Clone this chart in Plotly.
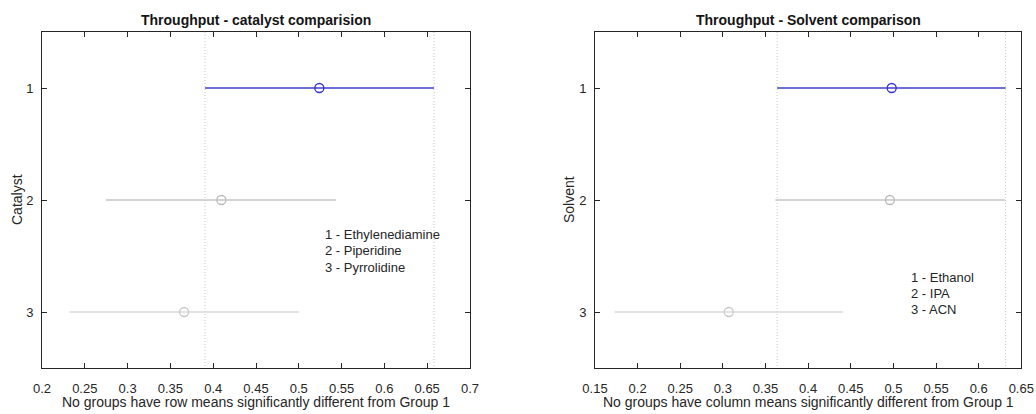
import plotly.graph_objects as go

# ---- data ----
groups = [1, 2, 3]
cat_mean = [0.524, 0.4095, 0.366]
cat_low = [0.3904, 0.2748, 0.2323]
cat_high = [0.658, 0.5435, 0.500]
cat_names = ["1 - Ethylenediamine", "2 - Piperidine", "3 - Pyrrolidine"]

sol_mean = [0.498, 0.4959, 0.3069]
sol_low = [0.3636, 0.3616, 0.1731]
sol_high = [0.6316, 0.6306, 0.4407]
sol_names = ["1 - Ethanol", "2 - IPA", "3 - ACN"]

cat_xticks = [0.2, 0.25, 0.3, 0.35, 0.4, 0.45, 0.5, 0.55, 0.6, 0.65, 0.7]
sol_xticks = [0.15, 0.2, 0.25, 0.3, 0.35, 0.4, 0.45, 0.5, 0.55, 0.6, 0.65]

line_cols = ["rgb(110,110,218)", "rgb(196,196,196)", "rgb(218,218,218)"]
mark_cols = ["rgb(50,50,200)", "rgb(185,185,185)", "rgb(200,200,200)"]
line_w = [2.2, 1.3, 1.6]

FONT = "Liberation Sans, Arial, sans-serif"
AX = "rgb(38,38,38)"

W, H = 1036, 414
D1 = [42 / W, 470 / W]
D2 = [595 / W, 1021.3 / W]
DY = [1 - 368 / H, 1 - 32 / H]

fig = go.Figure()

def add_panel(xa, ya, means, lows, highs):
    for v in (lows[0], highs[0]):
        fig.add_trace(go.Scatter(
            x=[v, v], y=[0.5, 3.5], mode="lines",
            line=dict(color="rgb(200,200,200)", width=1, dash="1px,2px"),
            xaxis=xa, yaxis=ya, showlegend=False, hoverinfo="skip"))
    for i, g in enumerate(groups):
        fig.add_trace(go.Scatter(
            x=[lows[i], highs[i]], y=[g, g], mode="lines",
            line=dict(color=line_cols[i], width=line_w[i]),
            xaxis=xa, yaxis=ya, showlegend=False, hoverinfo="skip"))
        fig.add_trace(go.Scatter(
            x=[means[i]], y=[g], mode="markers",
            marker=dict(symbol="circle-open", size=9, color=mark_cols[i],
                        line=dict(width=1.3, color=mark_cols[i])),
            xaxis=xa, yaxis=ya, showlegend=False))

add_panel("x", "y", cat_mean, cat_low, cat_high)
add_panel("x2", "y2", sol_mean, sol_low, sol_high)

# group-name text blocks
cat_text_y = [2.307, 2.455, 2.60]
for t, yy in zip(cat_names, cat_text_y):
    fig.add_annotation(x=0.528, y=yy, xref="x", yref="y", text=t, showarrow=False,
                       xanchor="left", yanchor="middle",
                       font=dict(family=FONT, size=13, color=AX))
sol_text_y = [2.689, 2.837, 2.982]
for t, yy in zip(sol_names, sol_text_y):
    fig.add_annotation(x=0.5186, y=yy, xref="x2", yref="y2", text=t, showarrow=False,
                       xanchor="left", yanchor="middle",
                       font=dict(family=FONT, size=13, color=AX))

xcommon = dict(showgrid=False, zeroline=False, showline=True, linecolor=AX, linewidth=1,
               mirror="ticks", ticks="inside", ticklen=5, tickcolor=AX, automargin=False,
               tickfont=dict(family=FONT, size=13, color=AX), ticklabelstandoff=8)
ycommon = dict(showgrid=False, zeroline=False, showline=True, linecolor=AX, linewidth=1,
               mirror="ticks", ticks="inside", ticklen=5, tickcolor=AX, automargin=False,
               tickfont=dict(family=FONT, size=13, color=AX),
               range=[3.5, 0.5], tickvals=groups, ticktext=[str(g) for g in groups],
               ticklabelstandoff=5)

fig.update_layout(
    width=W, height=H, margin=dict(l=0, r=0, t=0, b=0),
    paper_bgcolor="white", plot_bgcolor="white",
    xaxis=dict(domain=D1, range=[0.2, 0.7], tickvals=cat_xticks,
               ticktext=[f"{v:g}" for v in cat_xticks], anchor="y", **xcommon),
    yaxis=dict(domain=DY, anchor="x", **ycommon),
    xaxis2=dict(domain=D2, range=[0.15, 0.65], tickvals=sol_xticks,
                ticktext=[f"{v:g}" for v in sol_xticks], anchor="y2", **xcommon),
    yaxis2=dict(domain=DY, anchor="x2", **ycommon),
)

def ann(x, y, text, size, bold=False, angle=0, col=AX):
    fig.add_annotation(x=x, y=y, xref="paper", yref="paper",
                       text=f"<b>{text}</b>" if bold else text, showarrow=False,
                       xanchor="center", yanchor="middle", textangle=angle,
                       font=dict(family=FONT, size=size, color=col))

ymid = (DY[0] + DY[1]) / 2
ann(sum(D1) / 2, 1 - 20 / H, "Throughput - catalyst comparision", 14, bold=True, col="rgb(20,20,20)")
ann(sum(D2) / 2, 1 - 20 / H, "Throughput - Solvent comparison", 14, bold=True, col="rgb(20,20,20)")
ann(sum(D1) / 2, 1 - 402 / H, "No groups have row means significantly different from Group 1", 14)
ann(sum(D2) / 2, 1 - 402 / H, "No groups have column means significantly different from Group 1", 14)
ann(17 / W, ymid, "Catalyst", 14, angle=-90)
ann(569 / W, ymid, "Solvent", 14, angle=-90)

fig.write_html("out.html", config={"displayModeBar": False},
               post_script="document.body.style.margin='0px';document.body.style.overflow='hidden';")
